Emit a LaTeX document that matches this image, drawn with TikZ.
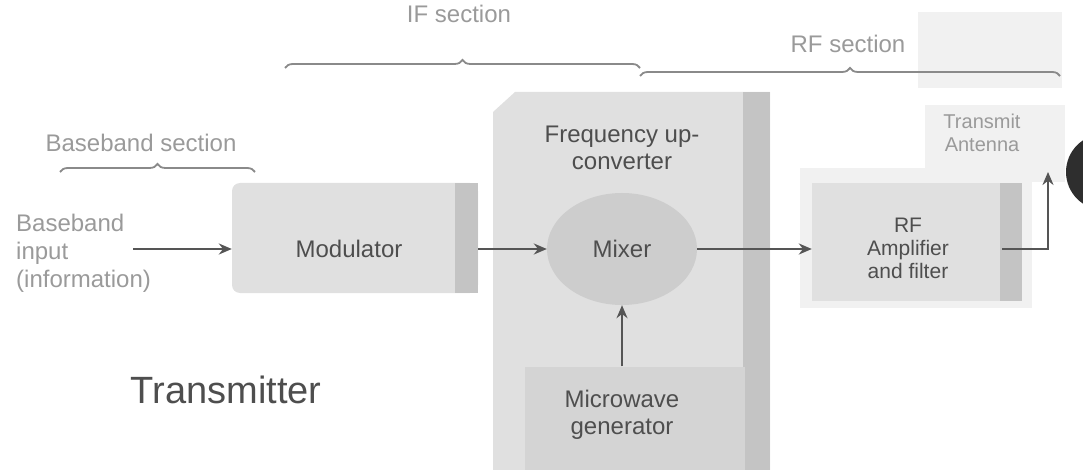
\documentclass[tikz,border=0pt]{standalone}
\usepackage{fontspec}
\setmainfont{Liberation Sans}
\usetikzlibrary{shapes.geometric,decorations.pathreplacing,arrows.meta,calc}
\definecolor{boxfill}{HTML}{E0E0E0}
\definecolor{sidefill}{HTML}{C4C4C4}
\definecolor{mixfill}{HTML}{CDCDCD}
\definecolor{genfill}{HTML}{D4D4D4}
\definecolor{halofill}{HTML}{F1F1F1}
\definecolor{lblgray}{HTML}{9A9A9A}
\definecolor{txtgray}{HTML}{4E4E4E}
\definecolor{linegray}{HTML}{555555}
\definecolor{bracegray}{HTML}{8A8A8A}
\definecolor{antfill}{HTML}{2E2E2E}
\begin{document}
\begin{tikzpicture}[x=1pt,y=-1pt,
  lbl/.style={text=lblgray, font=\fontsize{24}{27}\selectfont, inner sep=0pt},
  boxtxt/.style={text=txtgray, font=\fontsize{24}{27}\selectfont, align=center, inner sep=0pt},
  rftxt/.style={text=txtgray, font=\fontsize{21}{23}\selectfont, align=center, inner sep=0pt},
  brc/.style={draw=bracegray, line width=1.8pt, decorate, decoration={brace, amplitude=8pt}},
  conn/.style={draw=linegray, line width=2pt, -{Stealth[length=13pt,width=11pt]}},
  blockbox/.style={rectangle, fill=boxfill, inner sep=0pt},
  sideface/.style={fill=sidefill}]
\useasboundingbox (0,0) rectangle (1083,470);
\clip (0,0) rectangle (1083,470);

% faint background patches (top right)
\fill[halofill] (918,12) rectangle (1062,88);
\fill[halofill] (925,105) rectangle (1065,182);

% section labels and braces
\node[lbl] (iflbl) at (459,14) {IF section};
\draw[brc] (285,68) -- (640,68);
\node[lbl] (rflbl) at (848,44) {RF section};
\draw[brc] (640,76) -- (1060,76);
\node[lbl] (bblbl) at (141,143) {Baseband section};
\draw[brc] (60,172) -- (255,172);

% baseband input
\node[lbl, align=left, anchor=west, font=\fontsize{24}{28}\selectfont] (bbin) at (16,253) {Baseband\\input\\(information)};
\coordinate (bbstart) at (133,249);

% modulator
\node[blockbox, rounded corners=8pt, minimum width=246pt, minimum height=110pt] (mod) at (355,238) {};
\fill[sideface] ($(mod.north east)+(-23,0)$) rectangle (mod.south east);
\node[boxtxt] (modtxt) at (349,249) {Modulator};

% frequency up-converter
\fill[boxfill] (493,112) -- (515,92) -- (770,92) -- (770,478) -- (493,478) -- cycle;
\fill[sideface] (743,92) rectangle (770,478);
\node[boxtxt] (fuctxt) at (622,148) {Frequency up-\\converter};
\node[ellipse, fill=mixfill, minimum width=150pt, minimum height=112pt, boxtxt] (mix) at (622,249) {Mixer};
\node[rectangle, fill=genfill, minimum width=220pt, minimum height=103pt] (gen) at (635,418) {};
\node[boxtxt] (gentxt) at (622,415) {Microwave\\generator};

% RF amplifier
\fill[halofill] (800,168) rectangle (1032,308);
\node[blockbox, minimum width=210pt, minimum height=118pt] (rf) at (917,242) {};
\fill[sideface] ($(rf.north east)+(-22,0)$) rectangle (rf.south east);
\node[rftxt] (rftext) at (908,248) {RF\\Amplifier\\and filter};

% antenna
\node[lbl, align=center, font=\fontsize{20}{23}\selectfont] (antlbl) at (982,133) {Transmit\\Antenna};
\node[circle, fill=antfill, minimum size=76pt, inner sep=0pt] (ant) at (1104,172) {};
\coordinate (anttip) at (1048,172);

% transmitter label
\node[text=txtgray, font=\fontsize{38}{40}\selectfont, inner sep=0pt] (tx) at (226,390) {Transmitter};

% connectors
\draw[conn] (bbstart) -- (bbstart -| mod.west);
\draw[conn] (mod.east |- mix.west) -- (mix.west);
\draw[conn] (gen.north -| mix.south) -- (mix.south);
\draw[conn] (mix.east) -- (mix.east -| rf.west);
\draw[conn] ($(rf.east |- mix.east)+(-20,0)$) -| (anttip);
\end{tikzpicture}
\end{document}
